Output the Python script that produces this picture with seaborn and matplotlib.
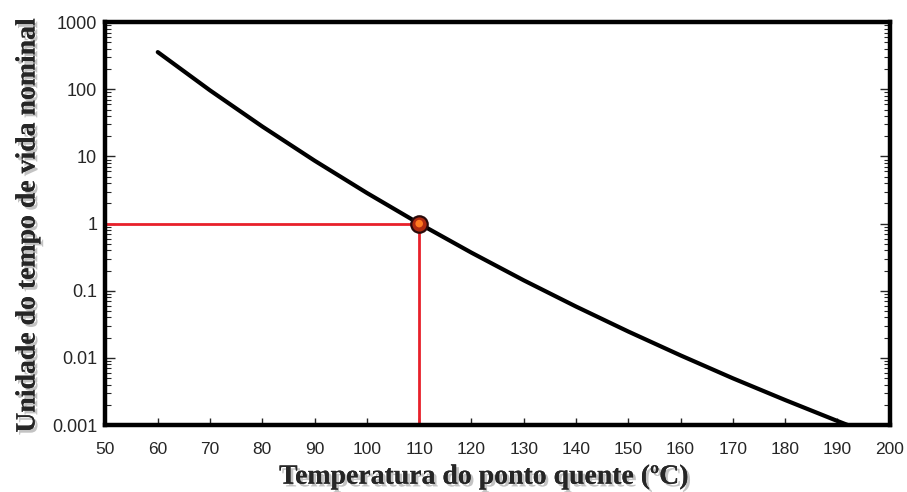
import matplotlib
matplotlib.use("Agg")
import matplotlib.pyplot as plt
import matplotlib.patheffects as pe
from matplotlib.ticker import LogLocator, FixedLocator, NullFormatter
import seaborn as sns
import pandas as pd

# Data
temperature = [60, 70, 80, 90, 100, 110, 120, 130, 140, 150, 160, 170, 180, 190, 192]
life_units = [358, 96.3, 27.9, 8.65, 2.86, 1.0, 0.369, 0.143, 0.0582, 0.0247,
              0.0109, 0.00497, 0.00236, 0.00115, 0.00100]
ref_temp = 110
ref_life = 1.0
x_ticks = [50, 60, 70, 80, 90, 100, 110, 120, 130, 140, 150, 160, 170, 180, 190, 200]
y_ticks = [0.001, 0.01, 0.1, 1, 10, 100, 1000]
y_tick_labels = ["0.001", "0.01", "0.1", "1", "10", "100", "1000"]

df = pd.DataFrame({"T": temperature, "life": life_units})

sns.set_style("white")
plt.rcParams["font.family"] = ["Liberation Sans", "DejaVu Sans"]

fig = plt.figure(figsize=(9.07, 4.92), dpi=100)
ax = fig.add_axes([0.1163, 0.136, 0.981 - 0.1163, 0.955 - 0.136])

# reference lines
ax.plot([50, ref_temp], [ref_life, ref_life], color="#e8202a", lw=2.0, zorder=2,
        solid_capstyle="butt")
ax.plot([ref_temp, ref_temp], [0.001, ref_life], color="#e8202a", lw=2.0, zorder=2,
        solid_capstyle="butt")

sns.lineplot(data=df, x="T", y="life", ax=ax, color="black", lw=3.0, zorder=3)

ax.scatter([ref_temp], [ref_life], s=140, color="#b02a10", edgecolor="#2a0a0a",
           linewidth=1.6, zorder=4)
ax.scatter([ref_temp], [ref_life], s=30, color="#ff7a20", edgecolor="none", zorder=5)

ax.set_yscale("log")
ax.set_xlim(50, 200)
ax.set_ylim(0.001, 1000)

ax.xaxis.set_major_locator(FixedLocator(x_ticks))
ax.set_xticks(x_ticks)
ax.set_xticklabels([str(t) for t in x_ticks], fontsize=12.5)
ax.set_yticks(y_ticks)
ax.set_yticklabels(y_tick_labels, fontsize=13)
ax.yaxis.set_minor_locator(LogLocator(base=10, subs=range(2, 10)))
ax.yaxis.set_minor_formatter(NullFormatter())

ax.tick_params(axis="x", which="major", direction="in", length=5, width=1,
               pad=12, bottom=True, top=False)
ax.tick_params(axis="y", which="major", direction="in", length=7, width=1,
               pad=6, left=True, right=True)
ax.tick_params(axis="y", which="minor", direction="in", length=4, width=0.8,
               left=True, right=True)

for s in ax.spines.values():
    s.set_visible(True)
    s.set_linewidth(3.2)
    s.set_color("black")

shadow = [pe.withSimplePatchShadow(offset=(2, -2), shadow_rgbFace="#888888", alpha=0.5),
          pe.Normal()]
ax.set_xlabel("Temperatura do ponto quente (ºC)", fontsize=20, fontweight="bold",
              family=["Liberation Serif", "DejaVu Serif"], va="center")
ax.set_ylabel("Unidade do tempo de vida nominal", fontsize=20, fontweight="bold",
              family=["Liberation Serif", "DejaVu Serif"], va="center")
ax.xaxis.label.set_path_effects(shadow)
ax.yaxis.label.set_path_effects(shadow)
ax.xaxis.set_label_coords(0.4825, -0.129)
ax.yaxis.set_label_coords(-0.0988, 0.496)

fig.savefig("out.png", dpi=100, facecolor="white")
